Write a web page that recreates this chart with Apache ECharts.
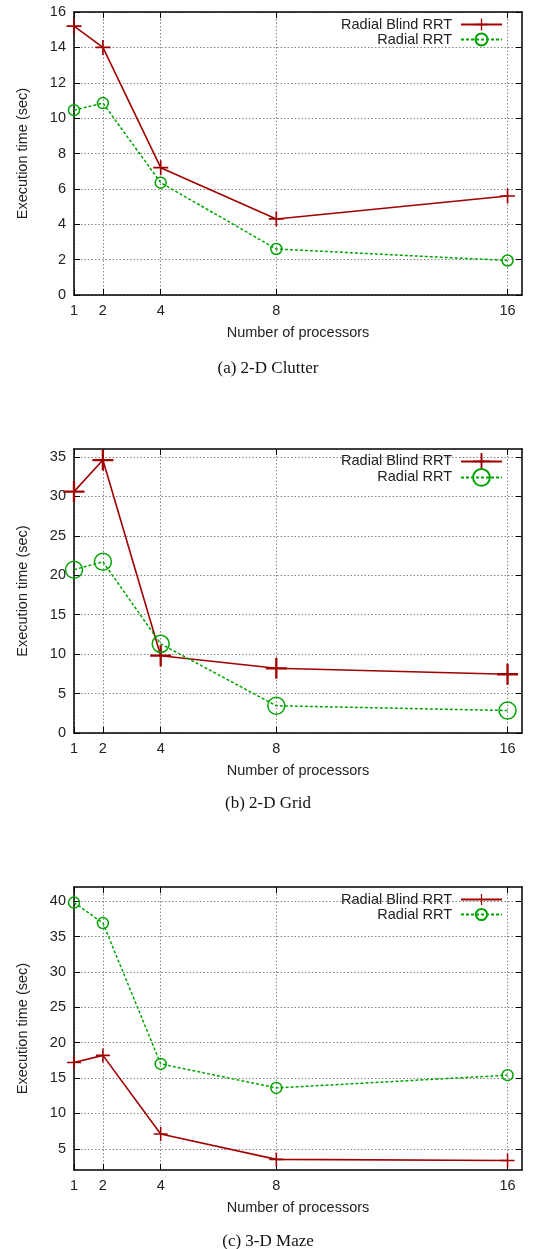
<!DOCTYPE html>
<html><head><meta charset="utf-8">
<script src="https://cdn.jsdelivr.net/npm/echarts@6/dist/echarts.min.js"></script>
<style>html,body{margin:0;padding:0;background:#fff}#c{width:536px;height:1249px}</style>
</head><body><div id="c"></div>
<script>
const processors = [1, 2, 4, 8, 16];
const seriesNames = ['Radial Blind RRT', 'Radial RRT'];
const captions = ['(a) 2-D Clutter', '(b) 2-D Grid', '(c) 3-D Maze'];
const clutterBlind = [15.2, 14.0, 7.2, 4.3, 5.6];
const clutterRRT = [10.45, 10.85, 6.35, 2.6, 1.95];
const gridBlind = [30.6, 34.6, 9.8, 8.2, 7.45];
const gridRRT = [20.7, 21.7, 11.3, 3.45, 2.85];
const mazeBlind = [17.2, 18.2, 7.1, 3.5, 3.35];
const mazeRRT = [39.8, 36.9, 17.0, 13.6, 15.4];
const yTicks1 = [0, 2, 4, 6, 8, 10, 12, 14, 16];
const yTicks2 = [0, 5, 10, 15, 20, 25, 30, 35];
const yTicks3 = [5, 10, 15, 20, 25, 30, 35, 40];
const yRanges = [[0, 16], [0, 36], [2, 42]];
const xRange = [1, 16.5];

const RED = '#a00000', GREEN = '#00a400';
const FONT = 'Liberation Sans';
const PLUS = 'path://M0,4.45 H10 V5.55 H0 Z M4.45,0 H5.55 V10 H4.45 Z';
const grids = [
  {left: 74, right: 14, top: 12, height: 283},
  {left: 74, right: 14, top: 449, height: 284},
  {left: 74, right: 14, top: 887, height: 283}
];
const yTicks = [yTicks1, yTicks2, yTicks3];
const dataSets = [[clutterBlind, clutterRRT], [gridBlind, gridRRT], [mazeBlind, mazeRRT]];
const plusSizes = [15, 21, 14];
const circSizes = [11, 17, 11];
// legend row anchors (px) and icon heights
const legendRows = [[25, 40], [463.5, 478.5], [900, 915]];
const legendIconH = [15, 21, 14];

const xAxes = [], yAxes = [], series = [], legends = [], titles = [];
const gridLine = {show: true, lineStyle: {color: '#858585', type: [1.5, 2], width: 1}};
grids.forEach((g, i) => {
  const xTick = {show: true, inside: true, length: 6, lineStyle: {color: '#000', width: 1}, customValues: processors};
  xAxes.push({
    gridIndex: i, type: 'value', min: xRange[0], max: xRange[1], position: 'bottom',
    name: 'Number of processors', nameLocation: 'middle', nameGap: 30,
    nameTextStyle: {fontFamily: FONT, fontSize: 14.5, color: '#222'},
    axisLine: {show: true, onZero: false, lineStyle: {color: '#000', width: 1.5}},
    axisTick: xTick,
    axisLabel: {customValues: processors, fontFamily: FONT, fontSize: 14.5, color: '#222', margin: 8},
    splitLine: gridLine
  });
  xAxes.push({
    gridIndex: i, type: 'value', min: xRange[0], max: xRange[1], position: 'top',
    axisLine: {show: true, onZero: false, lineStyle: {color: '#000', width: 1.5}},
    axisTick: xTick, axisLabel: {show: false}, splitLine: {show: false}
  });
  const yTick = {show: true, inside: true, length: 6, lineStyle: {color: '#000', width: 1}, customValues: yTicks[i]};
  yAxes.push({
    gridIndex: i, type: 'value', min: yRanges[i][0], max: yRanges[i][1], position: 'left',
    name: 'Execution time (sec)', nameLocation: 'middle', nameGap: 44, nameRotate: 90,
    nameTextStyle: {fontFamily: FONT, fontSize: 14.5, color: '#222'},
    axisLine: {show: true, onZero: false, lineStyle: {color: '#000', width: 1.5}},
    axisTick: yTick,
    axisLabel: {customValues: yTicks[i], fontFamily: FONT, fontSize: 14.5, color: '#222', margin: 8},
    splitLine: gridLine
  });
  yAxes.push({
    gridIndex: i, type: 'value', min: yRanges[i][0], max: yRanges[i][1], position: 'right',
    axisLine: {show: true, onZero: false, lineStyle: {color: '#000', width: 1.5}},
    axisTick: yTick, axisLabel: {show: false}, splitLine: {show: false}
  });
  const [blind, rrt] = dataSets[i];
  series.push({
    type: 'line', name: seriesNames[0], xAxisIndex: 2 * i, yAxisIndex: 2 * i,
    data: processors.map((p, k) => [p, blind[k]]),
    symbol: PLUS, symbolSize: plusSizes[i],
    lineStyle: {color: RED, width: 1.6},
    itemStyle: {color: RED}, emphasis: {disabled: true}, animation: false, z: 3
  });
  series.push({
    type: 'line', name: seriesNames[1], xAxisIndex: 2 * i, yAxisIndex: 2 * i,
    data: processors.map((p, k) => [p, rrt[k]]),
    symbol: 'circle', symbolSize: circSizes[i],
    lineStyle: {color: GREEN, width: 1.5, type: [3, 2]},
    itemStyle: {color: 'rgba(0,0,0,0)', borderColor: GREEN, borderWidth: 1.5},
    emphasis: {disabled: true}, animation: false, z: 4
  });
  seriesNames.forEach((n, r) => {
    const h = legendIconH[i];
    const boxH = Math.max(h, 16);
    legends.push({
      show: true, orient: 'vertical', align: 'right', right: 33, top: legendRows[i][r] - boxH / 2,
      padding: 0, itemGap: 0, itemWidth: 41, itemHeight: h,
      data: [{name: n}],
      textStyle: {fontFamily: FONT, fontSize: 14.5, color: '#222', padding: [0, 4, 0, 0]},
      selectedMode: false
    });
  });
  titles.push({
    text: captions[i], left: 'center', top: [355, 790, 1228][i],
    textStyle: {fontFamily: 'Liberation Serif', fontSize: 17, fontWeight: 'normal', color: '#111'}
  });
});
const chart = echarts.init(document.getElementById('c'), null, {renderer: 'canvas'});
chart.setOption({
  backgroundColor: '#fff', animation: false,
  title: titles,
  grid: grids.map(g => Object.assign({show: false}, g)),
  xAxis: xAxes, yAxis: yAxes, legend: legends, series: series
});
</script></body></html>
